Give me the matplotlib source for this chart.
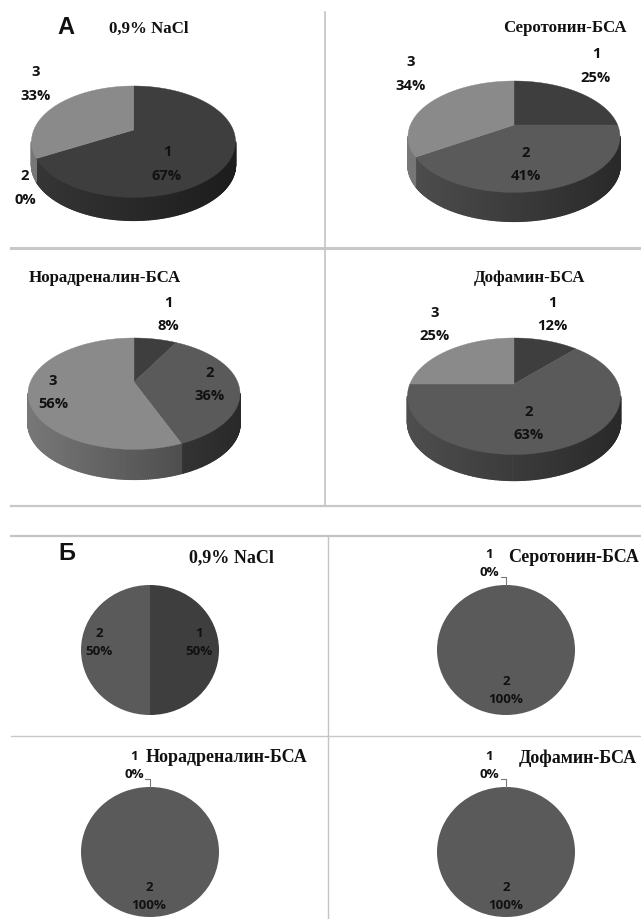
import numpy as np
import matplotlib
matplotlib.use("Agg")
import matplotlib.pyplot as plt
from matplotlib.collections import PolyCollection
from matplotlib.colors import to_rgb
from matplotlib.patches import Polygon

W, H = 641, 920

SLICE_IDS = [1, 2, 3]
SLICE_COLORS = ["#3e3e3e", "#5a5a5a", "#8a8a8a"]

TITLES_A = ["0,9% NaCl", "Серотонин-БСА", "Норадреналин-БСА", "Дофамин-БСА"]
VALUES_A = [[67, 0, 33], [25, 41, 34], [8, 36, 56], [12, 63, 25]]

TITLES_B = ["0,9% NaCl", "Серотонин-БСА", "Норадреналин-БСА", "Дофамин-БСА"]
VALUES_B = [[50, 50], [0, 100], [0, 100], [0, 100]]

# panel A layout: apex x, apex y, half width, far half height, rim depth
LAYOUT_A = [
    (133.5, 131, 102, 44, 23),
    (514, 126, 106, 44, 29),
    (134, 383, 106, 44, 30),
    (514, 385, 106.5, 46, 26),
]
TITLE_POS_A = [(149, 29), (565, 28), (105, 278), (530, 278)]
LABEL_POS_A = [
    [(167, 152), (25, 176), (36, 72)],
    [(596, 54), (526, 153), (411, 62)],
    [(168, 303), (210, 373), (53, 381)],
    [(552, 303), (529, 412), (435, 313)],
]

# panel B layout: centre x, centre y, half width, half height
LAYOUT_B = [(150, 651, 69, 65), (506, 651, 69, 65), (150, 853, 69, 65), (506, 853, 69, 65)]
TITLE_POS_B = [(231, 558), (574, 558), (227, 758), (578, 758)]
LABEL_POS_B = [
    [(199, 634), (99, 634)],
    [(489, 555), (506, 682)],
    [(134, 757), (149, 888)],
    [(489, 757), (506, 888)],
]

SERIF = "Liberation Serif"
SANS = "Open Sans"
PERSPECTIVE = 0.21


def rim_point(theta, cx, cy, a, b):
    # clockwise angle from 12 o'clock, tilted disc seen in perspective
    xc, yc = np.sin(theta), np.cos(theta)
    w = 1 + PERSPECTIVE * yc
    return cx + a * xc / w, cy - b * (1 + PERSPECTIVE) * yc / w


def draw_pie3d(ax, values, cx, cy, a, b, depth):
    a = a * np.sqrt(1 - PERSPECTIVE ** 2)
    edges = np.cumsum([0] + values) / sum(values) * 2 * np.pi
    # only the front of the rim is visible
    front_r = np.arccos(-PERSPECTIVE)
    front_l = 2 * np.pi - front_r
    quads, colors = [], []
    for i, v in enumerate(values):
        lo, hi = max(edges[i], front_r), min(edges[i + 1], front_l)
        if v == 0 or hi <= lo:
            continue
        th = np.linspace(lo, hi, max(int((hi - lo) * 60), 2) + 1)
        for t0, t1 in zip(th[:-1], th[1:]):
            x0, y0 = rim_point(t0, cx, cy, a, b)
            x1, y1 = rim_point(t1, cx, cy, a, b)
            quads.append([(x0, y0), (x1, y1), (x1, y1 + depth), (x0, y0 + depth)])
            shade = 0.66 - 0.20 * (x0 - cx) / a
            colors.append(np.array(to_rgb(SLICE_COLORS[i])) * shade)
    ax.add_collection(PolyCollection(quads, facecolors=colors, edgecolors=colors, linewidths=1.0))
    # top face
    for i, v in enumerate(values):
        if v == 0:
            continue
        th = np.linspace(edges[i], edges[i + 1], 200)
        xs, ys = rim_point(th, cx, cy, a, b)
        pts = np.column_stack([np.r_[cx, xs], np.r_[cy, ys]])
        ax.add_patch(Polygon(pts, closed=True, facecolor=SLICE_COLORS[i],
                             edgecolor=SLICE_COLORS[i], linewidth=0.3, zorder=3))


def draw_pie_flat(fig, values, cx, cy, a, b):
    pie_ax = fig.add_axes([(cx - a) / W, 1 - (cy + b) / H, 2 * a / W, 2 * b / H])
    pie_ax.pie(values, colors=SLICE_COLORS[:2], startangle=90, counterclock=False, radius=1)
    pie_ax.set_aspect("auto")
    pie_ax.set_xlim(-1, 1)
    pie_ax.set_ylim(-1, 1)
    pie_ax.set_zorder(1)


def slice_label(ax, pos, sid, val, size, gap):
    x, y = pos
    ax.text(x, y, str(sid), ha="center", va="center", fontsize=size,
            fontweight="bold", family=SANS, color="#111111", zorder=6)
    ax.text(x, y + gap, f"{val}%", ha="center", va="center", fontsize=size,
            fontweight="bold", family=SANS, color="#111111", zorder=6)


fig = plt.figure(figsize=(W / 100, H / 100), dpi=100)
ax = fig.add_axes([0, 0, 1, 1])
ax.set_xlim(0, W)
ax.set_ylim(H, 0)
ax.axis("off")

top = fig.add_axes([0, 0, 1, 1], facecolor="none")
top.set_xlim(0, W)
top.set_ylim(H, 0)
top.axis("off")
top.set_zorder(5)

# panel frames
ax.plot([11, W], [249, 249], color="#c8c8c8", lw=2.2)
ax.plot([11, W], [507, 507], color="#c8c8c8", lw=1.6)
ax.plot([325, 325], [13, 506], color="#c4c4c4", lw=1.2)
ax.plot([11, W], [537, 537], color="#c4c4c4", lw=1.6)
ax.plot([11, W], [737, 737], color="#c8c8c8", lw=1.0)
ax.plot([328, 328], [537, H], color="#c4c4c4", lw=1.0)

for i, vals in enumerate(VALUES_A):
    cx, cy, a, b, depth = LAYOUT_A[i]
    draw_pie3d(ax, vals, cx, cy, a, b, depth)
    top.text(*TITLE_POS_A[i], TITLES_A[i], ha="center", va="center", fontsize=12.2,
             fontweight="bold", family=SERIF, color="#111111")
    for pos, sid, v in zip(LABEL_POS_A[i], SLICE_IDS, vals):
        slice_label(top, pos, sid, v, 10.6, 23.5)

for i, vals in enumerate(VALUES_B):
    cx, cy, a, b = LAYOUT_B[i]
    draw_pie_flat(fig, vals, cx, cy, a, b)
    top.text(*TITLE_POS_B[i], TITLES_B[i], ha="center", va="center", fontsize=13,
             fontweight="bold", family=SERIF, color="#111111")
    for pos, sid, v in zip(LABEL_POS_B[i], SLICE_IDS, vals):
        slice_label(top, pos, sid, v, 9.6, 18)
    if vals[0] == 0:
        # leader line from the empty slice label to the rim
        top.plot([cx - 5, cx, cx], [cy - b - 8, cy - b - 8, cy - b], color="#777777", lw=0.8)

top.text(66, 27, "А", ha="center", va="center", fontsize=17, fontweight="bold",
         family="Liberation Sans", color="#111111")
top.text(67, 554, "Б", ha="center", va="center", fontsize=17, fontweight="bold",
         family="Liberation Sans", color="#111111")

fig.savefig("out.png", dpi=100)
